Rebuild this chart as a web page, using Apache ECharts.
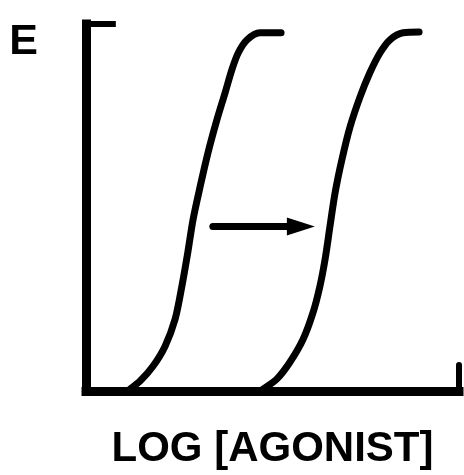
<!DOCTYPE html>
<html>
<head>
<meta charset="utf-8">
<script src="https://cdn.jsdelivr.net/npm/echarts@6/dist/echarts.min.js"></script>
<style>
  html, body { margin: 0; padding: 0; background: #fff; }
  #chart { width: 464px; height: 475px; }
</style>
</head>
<body>
<div id="chart"></div>
<script>
// Concentration-effect curves: log[agonist] (0-10, arbitrary units) vs effect E (% of max)
const agonistAlone = [
  [1.13, 0], [1.18, 0.5], [1.45, 2.7], [1.80, 6.8], [2.12, 12.2], [2.39, 19.6],
  [2.57, 28.5], [2.73, 37.8], [2.87, 46.7], [3.06, 55.7], [3.27, 64.9],
  [3.51, 73.9], [3.73, 81.3], [3.91, 87.5], [4.08, 92.1], [4.32, 95.7],
  [4.66, 97.6], [5.23, 97.6]
];
const withAntagonist = [
  [4.69, 0], [4.75, 0.5], [5.12, 3.3], [5.47, 7.9], [5.82, 14.1], [6.09, 21.5],
  [6.27, 28.5], [6.41, 35.9], [6.54, 44.8], [6.68, 54.1], [6.86, 63.0],
  [7.08, 72.0], [7.35, 80.2], [7.61, 86.7], [7.88, 92.1], [8.15, 95.7],
  [8.50, 97.6], [8.93, 97.8]
];
// Rightward shift arrow: shaft and head position
const arrowShaft = [[3.40, 44.8], [5.70, 44.8]];
const arrowHead = [[5.76, 44.8]];
// Bracket ends on the axes
const yAxisCap = [[0, 100], [0.8, 100]];
const xAxisCap = [[10, 0], [10, 7.1]];

const axisNames = { x: 'LOG [AGONIST]', y: 'E' };
const FONT = '"Liberation Sans", Arial, Helvetica, sans-serif';

const chart = echarts.init(document.getElementById('chart'), null, { renderer: 'canvas' });

const curveStyle = { color: '#000', width: 7, cap: 'round', join: 'round' };

chart.setOption({
  animation: false,
  backgroundColor: '#fff',
  grid: { left: 86, right: 5, top: 24, bottom: 83, containLabel: false },
  xAxis: {
    type: 'value', min: 0, max: 10,
    name: axisNames.x, nameLocation: 'middle', nameGap: 37,
    nameTextStyle: { fontFamily: FONT, fontWeight: 'bold', fontSize: 42, color: '#000' },
    axisLine: { show: true, onZero: false, lineStyle: { color: '#000', width: 9, cap: 'square' } },
    axisTick: { show: false }, axisLabel: { show: false }, splitLine: { show: false }
  },
  yAxis: {
    type: 'value', min: 0, max: 100,
    name: axisNames.y, nameLocation: 'end', nameGap: -18,
    nameTextStyle: {
      fontFamily: FONT, fontWeight: 'bold', fontSize: 43, color: '#000',
      align: 'right', verticalAlign: 'middle', padding: [0, 48, 0, 0]
    },
    axisLine: { show: true, onZero: false, lineStyle: { color: '#000', width: 9, cap: 'square' } },
    axisTick: { show: false }, axisLabel: { show: false }, splitLine: { show: false }
  },
  series: [
    { type: 'line', data: agonistAlone, smooth: 0.3, showSymbol: false, clip: false, lineStyle: curveStyle },
    { type: 'line', data: withAntagonist, smooth: 0.3, showSymbol: false, clip: false, lineStyle: curveStyle },
    { type: 'line', data: arrowShaft, showSymbol: false, clip: false,
      lineStyle: { color: '#000', width: 7, cap: 'round' } },
    { type: 'scatter', data: arrowHead, symbol: 'triangle', symbolSize: [18, 28], symbolRotate: -90,
      clip: false, itemStyle: { color: '#000', opacity: 1 } },
    { type: 'line', data: yAxisCap, showSymbol: false, clip: false,
      lineStyle: { color: '#000', width: 6, cap: 'butt' } },
    { type: 'line', data: xAxisCap, showSymbol: false, clip: false,
      lineStyle: { color: '#000', width: 6, cap: 'round' } }
  ]
});
</script>
</body>
</html>
